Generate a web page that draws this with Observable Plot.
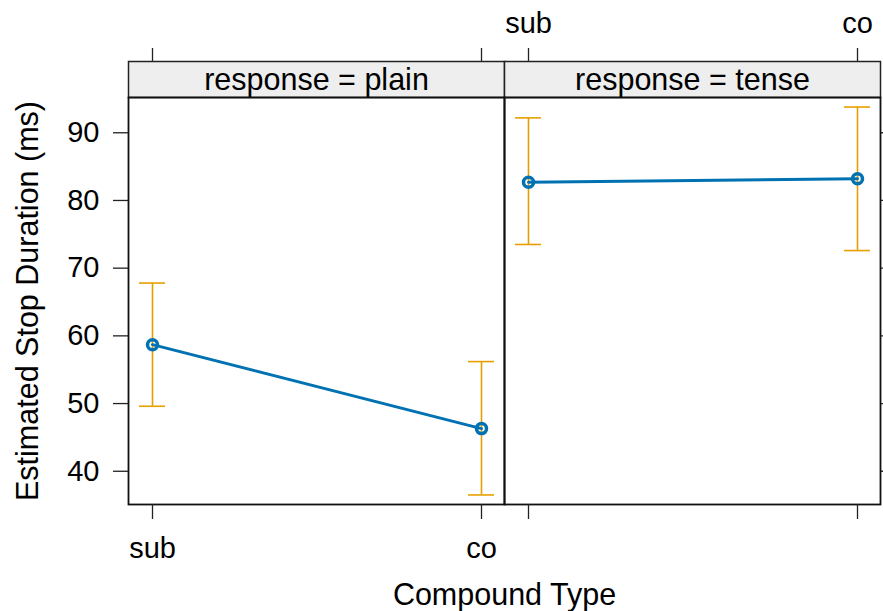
<!DOCTYPE html>
<html>
<head>
<meta charset="utf-8">
<script src="https://cdn.jsdelivr.net/npm/d3@7"></script>
<script src="https://cdn.jsdelivr.net/npm/@observablehq/plot@0.6"></script>
<style>
  html, body { margin: 0; padding: 0; background: white; }
</style>
</head>
<body>
<div id="chart"></div>
<script>
// ---- data ----
const responses = ["plain", "tense"];
const compoundTypes = ["sub", "co"];
const seriesResponse = ["plain", "plain", "tense", "tense"];
const seriesType = ["sub", "co", "sub", "co"];
const estimates = [58.7, 46.3, 82.7, 83.2];
const lowers = [49.6, 36.5, 73.5, 72.6];
const uppers = [67.8, 56.2, 92.2, 93.8];
const yTicks = [40, 50, 60, 70, 80, 90];
const xLabel = "Compound Type";
const yLabel = "Estimated Stop Duration (ms)";

const rows = estimates.map((e, i) => ({
  response: seriesResponse[i], type: seriesType[i], estimate: e, lower: lowers[i], upper: uppers[i]
}));
const bottomLabels = compoundTypes.map(t => ({response: "plain", type: t}));
const topLabels = compoundTypes.map(t => ({response: "tense", type: t}));

const blue = "#0072B2";
const orange = "#E69F00";
const font = "'Liberation Sans', Arial, Helvetica, sans-serif";
const blank = () => "";

const chart = Plot.plot({
  width: 883,
  height: 611,
  marginLeft: 127,
  marginRight: 3,
  marginTop: 97,
  marginBottom: 107,
  style: {fontFamily: font, fontSize: "29px", color: "black", background: "white"},
  fx: {domain: responses, padding: 0, axis: null},
  x: {domain: compoundTypes, type: "point", padding: 0.07, axis: null},
  y: {domain: [35.09, 95.21], axis: null},
  marks: [
    // strip
    Plot.frame({fill: "#eeeeee", stroke: "#222", strokeWidth: 1.5, insetTop: -36, insetBottom: 407}),
    Plot.text(responses, {fx: d => d, text: d => `response = ${d}`, frameAnchor: "top", dy: -17, lineAnchor: "middle", fill: "black", fontSize: 30.5}),
    // panel frame
    Plot.frame({stroke: "#111", strokeWidth: 1.8}),
    // axes
    Plot.axisX({anchor: "bottom", tickSize: 15, tickFormat: blank, label: null, strokeWidth: 1.3, stroke: "#222"}),
    Plot.axisX({anchor: "top", tickSize: 14, tickFormat: blank, label: null, strokeWidth: 1.3, stroke: "#222", dy: -36}),
    Plot.text(bottomLabels, {x: "type", fx: "response", text: "type", frameAnchor: "bottom", dy: 44, lineAnchor: "middle", fill: "black"}),
    Plot.text(topLabels, {x: "type", fx: "response", text: "type", frameAnchor: "top", dy: -74, lineAnchor: "middle", fill: "black"}),
    Plot.axisY({anchor: "left", ticks: yTicks, tickSize: 15, tickPadding: 14, label: null, strokeWidth: 1.3, stroke: "#222", fill: "black"}),
    Plot.axisY({anchor: "right", ticks: yTicks, tickSize: 15, tickFormat: blank, label: null, strokeWidth: 1.3, stroke: "#222"}),
    // axis titles
    Plot.text([xLabel], {facet: "super", frameAnchor: "bottom", dy: 91, lineAnchor: "middle", textAnchor: "middle", fill: "black", fontSize: 30.5}),
    Plot.text([yLabel], {facet: "super", frameAnchor: "left", dx: -100, rotate: -90, lineAnchor: "middle", textAnchor: "middle", fill: "black", fontSize: 30.5}),
    // error bars
    Plot.ruleX(rows, {x: "type", fx: "response", y1: "lower", y2: "upper", stroke: orange, strokeWidth: 1.6}),
    Plot.ruleY(rows, {x1: "type", x2: "type", fx: "response", y: "upper", stroke: orange, strokeWidth: 1.6, insetLeft: -13, insetRight: -13}),
    Plot.ruleY(rows, {x1: "type", x2: "type", fx: "response", y: "lower", stroke: orange, strokeWidth: 1.6, insetLeft: -13, insetRight: -13}),
    // estimates
    Plot.line(rows, {x: "type", y: "estimate", fx: "response", stroke: blue, strokeWidth: 3}),
    Plot.dot(rows, {x: "type", y: "estimate", fx: "response", r: 5, stroke: blue, strokeWidth: 3.5, fill: "none"})
  ]
});
document.getElementById("chart").appendChild(chart);
</script>
</body>
</html>
